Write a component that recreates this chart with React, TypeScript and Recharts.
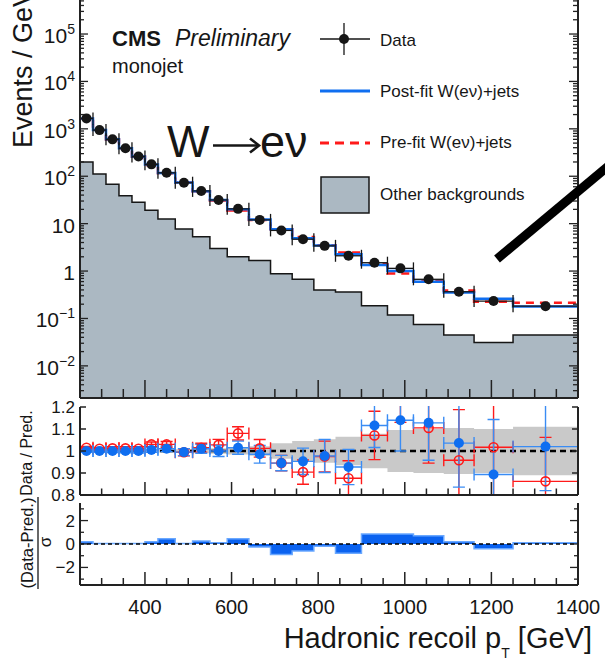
import React from 'react'
import {
  ComposedChart,
  Area,
  Line,
  Scatter,
  ErrorBar,
  XAxis,
  YAxis,
  ReferenceLine,
} from 'recharts'

// binning of the hadronic recoil (GeV)
const binEdges = [250, 280, 310, 340, 370, 400, 430, 470, 510, 550, 590, 640, 690, 740, 790, 840, 900, 960, 1020, 1090, 1160, 1250, 1400]

// events / GeV
const dataYield = [1660, 940, 600, 390, 260, 178, 118, 73, 49, 31.6, 20.5, 12, 7.2, 4.7, 3.4, 2.1, 1.5, 1.14, 0.67, 0.366, 0.233, 0.182]
const postFit = [1660, 940, 600, 390, 260, 177, 117, 73.4, 48.5, 31.6, 20.2, 12.2, 7.6, 4.93, 3.48, 2.27, 1.34, 1.0, 0.594, 0.353, 0.261, 0.178]
const preFit = [1635, 931, 593, 385, 257, 173, 115, 73.4, 48.3, 30.7, 19.0, 11.9, 7.6, 5.2, 3.49, 2.45, 1.4, 0.89, 0.606, 0.39, 0.225, 0.214]
const otherBkg = [200, 112, 67.5, 38.8, 28.2, 19.1, 12.5, 7.7, 5.3, 3.0, 2.0, 1.68, 0.88, 0.67, 0.4, 0.36, 0.185, 0.118, 0.075, 0.045, 0.031, 0.045]

// data / prediction
const ratioPost = [1.0, 1.0, 1.0, 1.0, 1.0, 1.005, 1.01, 0.995, 1.01, 1.0, 1.015, 0.985, 0.945, 0.953, 0.977, 0.927, 1.116, 1.14, 1.128, 1.036, 0.893, 1.02]
const ratioPostErr = [0.006, 0.006, 0.007, 0.008, 0.009, 0.011, 0.013, 0.016, 0.02, 0.025, 0.03, 0.04, 0.035, 0.06, 0.075, 0.08, 0.1, 0.14, 0.17, 0.2, 0.25, 0.2]
const ratioPre = [1.015, 1.01, 1.012, 1.012, 1.01, 1.03, 1.03, 0.994, 1.015, 1.028, 1.08, 1.012, 0.945, 0.904, 0.975, 0.876, 1.071, 1.28, 1.105, 0.958, 1.017, 0.862]
const ratioPreErr = [0.006, 0.006, 0.007, 0.008, 0.009, 0.011, 0.013, 0.016, 0.02, 0.025, 0.03, 0.04, 0.035, 0.055, 0.07, 0.08, 0.11, 0.15, 0.16, 0.23, 0.25, 0.2]
const bandHalf = [0.004, 0.004, 0.004, 0.005, 0.005, 0.006, 0.007, 0.008, 0.01, 0.012, 0.016, 0.022, 0.035, 0.045, 0.053, 0.065, 0.078, 0.095, 0.1, 0.105, 0.1, 0.11]

// (data - pred) / sigma
const pull = [0.2, 0.05, 0.05, 0.05, 0.05, 0.2, 0.45, 0.05, 0.25, 0.1, 0.45, -0.25, -0.9, -0.6, -0.2, -0.8, 0.85, 0.85, 0.7, 0.2, -0.4, 0.1]

// ticks
const xTicks = [250, 300, 350, 400, 450, 500, 550, 600, 650, 700, 750, 800, 850, 900, 950, 1000, 1050, 1100, 1150, 1200, 1250, 1300, 1350, 1400]
const logDecades = [0.001, 0.01, 0.1, 1, 10, 100, 1000, 1e4, 1e5]
const ratioTicks = [0.8, 0.9, 1.0, 1.1, 1.2]
const ratioLabels = ['0.8', '0.9', '1', '1.1', '1.2']
const pullTicks = [-3, -2, -1, 0, 1, 2, 3]

const Y_MIN = 0.0021
const Y_MAX = 7.7e5

const FONT = '"Liberation Sans", Arial, Helvetica, sans-serif'
const INK = '#161616'
const GREY = '#abb8c2'
const BAND = '#c9c9c9'
const BLUE = '#0f6ef0'
const BLUE_ERR = '#3a8cf4'
const RED = '#ff1a1a'
const frame = { stroke: '#222', strokeWidth: 2 }

const logTicks: number[] = []
logDecades.forEach((d) => {
  for (let m = 1; m < 10; m++) {
    const v = m * d
    if (v >= Y_MIN && v <= Y_MAX) logTicks.push(v)
  }
})

const lastEdge = binEdges[binEdges.length - 1]
const stepRows = (vals: number[]) => [
  ...vals.map((v, i) => ({ x: binEdges[i], y: v })),
  { x: lastEdge, y: vals[vals.length - 1] },
]
const pointRows = (vals: number[], errs?: number[]) =>
  vals.map((v, i) => ({
    x: (binEdges[i] + binEdges[i + 1]) / 2,
    y: v,
    ex: (binEdges[i + 1] - binEdges[i]) / 2,
    ey: errs ? errs[i] : 0,
  }))

const otherRows = stepRows(otherBkg)
const preRows = stepRows(preFit)
const postRows = stepRows(postFit)
const dataRows = pointRows(dataYield)
const bandRows = [
  ...bandHalf.map((u, i) => ({ x: binEdges[i], band: [1 - u, 1 + u] })),
  { x: lastEdge, band: [1 - bandHalf[bandHalf.length - 1], 1 + bandHalf[bandHalf.length - 1]] },
]
const postRatioRows = pointRows(ratioPost, ratioPostErr)
const preRatioRows = pointRows(ratioPre, ratioPreErr)
const pullRows = stepRows(pull)

const isDecade = (v: number) => {
  const l = Math.log10(v)
  return Math.abs(l - Math.round(l)) < 1e-6
}

// x ticks, drawn inward from the frame
const xTick = (majorLen: number, minorLen: number, dir: number, withLabel: boolean) => (p: any) => {
  const v = p.payload.value
  const major = v % 200 === 0
  return (
    <g>
      <line x1={p.x} x2={p.x} y1={p.y} y2={p.y + dir * (major ? majorLen : minorLen)} stroke="#222" strokeWidth={1.5} />
      {withLabel && major && (
        <text x={p.x} y={p.y + 29} textAnchor="middle" fontSize={20} fontFamily={FONT} fill={INK}>
          {v}
        </text>
      )}
    </g>
  )
}

const logTick = (dir: number, majorLen: number, minorLen: number, withLabel: boolean) => (p: any) => {
  const v = p.payload.value
  const major = isDecade(v)
  const e = Math.round(Math.log10(v))
  let label: React.ReactNode = null
  if (withLabel && major) {
    if (e === 0) label = '1'
    else if (e === 1) label = '10'
    else
      label = (
        <>
          10
          <tspan dy={-9} fontSize={14}>
            {e < 0 ? '\u2212' + -e : e}
          </tspan>
        </>
      )
  }
  return (
    <g>
      <line x1={p.x} x2={p.x + dir * (major ? majorLen : minorLen)} y1={p.y} y2={p.y} stroke="#222" strokeWidth={1.3} />
      {label && (
        <text x={p.x - 5} y={p.y + 9} textAnchor="end" fontSize={21} fontFamily={FONT} fill={INK}>
          {label}
        </text>
      )}
    </g>
  )
}

const linTick = (dir: number, isMajor: (v: number) => boolean, majorLen: number, minorLen: number, labelOf?: (v: number) => string | null) => (p: any) => {
  const v = p.payload.value
  const major = isMajor(v)
  const txt = labelOf ? labelOf(v) : null
  return (
    <g>
      <line x1={p.x} x2={p.x + dir * (major ? majorLen : minorLen)} y1={p.y} y2={p.y} stroke="#222" strokeWidth={1.3} />
      {txt && (
        <text x={p.x - 5} y={p.y + 6} textAnchor="end" fontSize={17} fontFamily={FONT} fill={INK}>
          {txt}
        </text>
      )}
    </g>
  )
}

const dot = (r: number, fill: string) => (p: any) => <circle cx={p.cx} cy={p.cy} r={r} fill={fill} />
const openDot = (p: any) => <circle cx={p.cx} cy={p.cy} r={4.5} fill="none" stroke={RED} strokeWidth={1.6} />

function TopPanel() {
  return (
    <div style={{ position: 'absolute', left: 0, top: -20, width: 605, height: 420 }}>
      <ComposedChart width={605} height={420} margin={{ top: 12, right: 0, bottom: 0, left: 0 }}>
        <XAxis type="number" dataKey="x" domain={[250, 1400]} allowDataOverflow ticks={xTicks} interval={0} height={2} tickSize={0} tickMargin={0} tick={xTick(18, 9, -1, false)} axisLine={frame} />
        <XAxis xAxisId="top" orientation="top" type="number" dataKey="x" domain={[250, 1400]} allowDataOverflow ticks={xTicks} interval={0} height={0} tickSize={0} tickMargin={0} tick={xTick(18, 9, 1, false)} axisLine={frame} />
        <YAxis type="number" dataKey="y" scale="log" domain={[Y_MIN, Y_MAX]} allowDataOverflow ticks={logTicks} interval={0} width={80} tickSize={0} tickMargin={0} tick={logTick(1, 8, 4, true)} axisLine={frame} />
        <YAxis yAxisId="r" orientation="right" type="number" scale="log" domain={[Y_MIN, Y_MAX]} allowDataOverflow ticks={logTicks} interval={0} width={27} tickSize={0} tickMargin={0} tick={logTick(-1, 9, 5, false)} axisLine={frame} />
        <Area data={otherRows} type="stepAfter" dataKey="y" baseValue={Y_MIN} fill={GREY} fillOpacity={1} stroke={INK} strokeWidth={1.5} dot={false} activeDot={false} isAnimationActive={false} />
        <Line data={preRows} type="stepAfter" dataKey="y" stroke={RED} strokeWidth={2.5} strokeDasharray="8 6" dot={false} activeDot={false} isAnimationActive={false} />
        <Line data={postRows} type="stepAfter" dataKey="y" stroke={BLUE} strokeWidth={2.5} dot={false} activeDot={false} isAnimationActive={false} />
        <Scatter data={dataRows} dataKey="y" fill={INK} shape={dot(5, INK)} isAnimationActive={false}>
          <ErrorBar dataKey="ex" direction="x" width={6} stroke={INK} strokeWidth={1.3} />
        </Scatter>
      </ComposedChart>
    </div>
  )
}

// keep error bars inside the frame, but leave the tick labels on the left free
const ratioClip = 'polygon(0 0, 79px 0, 79px 9px, 100% 9px, 100% 99px, 79px 99px, 79px 100%, 0 100%)'

function RatioPanel() {
  return (
    <div style={{ position: 'absolute', left: 0, top: 397, width: 605, height: 110, clipPath: ratioClip }}>
      <ComposedChart width={605} height={110} margin={{ top: 10, right: 0, bottom: 0, left: 0 }}>
        <XAxis type="number" dataKey="x" domain={[250, 1400]} allowDataOverflow ticks={xTicks} interval={0} height={12} tickSize={0} tickMargin={0} tick={xTick(13, 6.5, -1, false)} axisLine={frame} />
        <XAxis xAxisId="top" orientation="top" type="number" dataKey="x" domain={[250, 1400]} allowDataOverflow ticks={xTicks} interval={0} height={0} tickSize={0} tickMargin={0} tick={xTick(13, 6.5, 1, false)} axisLine={frame} />
        <YAxis type="number" dataKey="y" domain={[0.8, 1.2]} allowDataOverflow ticks={ratioTicks} interval={0} width={80} tickSize={0} tickMargin={0} tick={linTick(1, () => true, 6, 3, (v) => ratioLabels[ratioTicks.findIndex((t) => Math.abs(t - v) < 1e-6)])} axisLine={frame} />
        <YAxis yAxisId="r" orientation="right" type="number" domain={[0.8, 1.2]} allowDataOverflow ticks={ratioTicks} interval={0} width={27} tickSize={0} tickMargin={0} tick={linTick(-1, () => true, 6, 3)} axisLine={frame} />
        <Area data={bandRows} type="stepAfter" dataKey="band" fill={BAND} fillOpacity={1} stroke="none" dot={false} activeDot={false} isAnimationActive={false} />
        <ReferenceLine y={1} stroke="#000" strokeWidth={2.5} strokeDasharray="6 4" />
        <Scatter data={preRatioRows} dataKey="y" fill={RED} shape={openDot} isAnimationActive={false}>
          <ErrorBar dataKey="ex" direction="x" width={6} stroke={RED} strokeWidth={1.4} />
          <ErrorBar dataKey="ey" direction="y" width={6} stroke={RED} strokeWidth={1.4} />
        </Scatter>
        <Scatter data={postRatioRows} dataKey="y" fill={BLUE} shape={dot(5, BLUE)} isAnimationActive={false}>
          <ErrorBar dataKey="ex" direction="x" width={6} stroke={BLUE_ERR} strokeWidth={1.4} />
          <ErrorBar dataKey="ey" direction="y" width={6} stroke={BLUE_ERR} strokeWidth={1.4} />
        </Scatter>
      </ComposedChart>
    </div>
  )
}

function PullPanel() {
  return (
    <div style={{ position: 'absolute', left: 0, top: 495, width: 605, height: 165 }}>
      <ComposedChart width={605} height={165} margin={{ top: 8, right: 0, bottom: 0, left: 0 }}>
        <XAxis type="number" dataKey="x" domain={[250, 1400]} allowDataOverflow ticks={xTicks} interval={0} height={75} tickSize={0} tickMargin={0} tick={xTick(13, 7, -1, true)} axisLine={frame} />
        <XAxis xAxisId="top" orientation="top" type="number" dataKey="x" domain={[250, 1400]} allowDataOverflow ticks={xTicks} interval={0} height={0} tickSize={0} tickMargin={0} tick={xTick(13, 7, 1, false)} axisLine={frame} />
        <YAxis type="number" dataKey="y" domain={[-3.5, 3.5]} allowDataOverflow ticks={pullTicks} interval={0} width={80} tickSize={0} tickMargin={0} tick={linTick(1, (v) => v % 2 === 0, 8, 4, (v) => (v % 2 === 0 && Math.abs(v) < 3 ? (v < 0 ? '\u2212' + -v : String(v)) : null))} axisLine={frame} />
        <YAxis yAxisId="r" orientation="right" type="number" domain={[-3.5, 3.5]} allowDataOverflow ticks={pullTicks} interval={0} width={27} tickSize={0} tickMargin={0} tick={linTick(-1, (v) => v % 2 === 0, 8, 4)} axisLine={frame} />
        <Area data={pullRows} type="stepAfter" dataKey="y" baseValue={0} fill="#0a62f0" fillOpacity={1} stroke="#6aa8ff" strokeWidth={1.5} dot={false} activeDot={false} isAnimationActive={false} />
        <ReferenceLine y={0} stroke="#000" strokeWidth={1.3} strokeDasharray="4 3" />
      </ComposedChart>
    </div>
  )
}

function Overlay() {
  return (
    <svg width={605} height={660} style={{ position: 'absolute', left: 0, top: 0, pointerEvents: 'none' }} fontFamily={FONT} fill={INK}>
      <text transform="translate(32,148) rotate(-90)" fontSize={27}>
        Events / GeV
      </text>
      <text transform="translate(32,453) rotate(-90)" fontSize={16} textAnchor="middle">
        Data / Pred.
      </text>
      <text transform="translate(33,543) rotate(-90)" fontSize={16.5} textAnchor="middle">
        (Data-Pred.)
      </text>
      <line x1={38} x2={38} y1={497} y2={589} stroke={INK} strokeWidth={1.3} />
      <text transform="translate(51,542) rotate(-90)" fontSize={17} textAnchor="middle">
        σ
      </text>

      <text x={112} y={46} fontSize={22} fontWeight="bold">
        CMS
      </text>
      <text x={175} y={46} fontSize={23} fontStyle="italic">
        Preliminary
      </text>
      <text x={112} y={73} fontSize={20}>
        monojet
      </text>

      {/* W -> e nu */}
      <text x={167} y={157} fontSize={45}>
        W
      </text>
      <line x1={213} x2={258} y1={145.5} y2={145.5} stroke={INK} strokeWidth={2.6} />
      <polyline points="250,138.5 259,145.5 250,152.5" fill="none" stroke={INK} strokeWidth={2.6} />
      <text x={260} y={157} fontSize={45}>
        eν
      </text>

      {/* legend */}
      <line x1={320} x2={370} y1={39} y2={39} stroke={INK} strokeWidth={1.3} />
      <line x1={344} x2={344} y1={23} y2={55} stroke={INK} strokeWidth={1.3} />
      <circle cx={344} cy={39} r={5} fill={INK} />
      <text x={380} y={46} fontSize={17}>
        Data
      </text>
      <line x1={320} x2={370} y1={91} y2={91} stroke={BLUE} strokeWidth={3} />
      <text x={380} y={97} fontSize={17}>
        Post-fit W(eν)+jets
      </text>
      <line x1={320} x2={370} y1={143} y2={143} stroke={RED} strokeWidth={3} strokeDasharray="9 6" />
      <text x={380} y={148} fontSize={17}>
        Pre-fit W(eν)+jets
      </text>
      <rect x={321} y={177} width={48} height={36} fill={GREY} stroke={INK} strokeWidth={1.5} />
      <text x={380} y={200} fontSize={17}>
        Other backgrounds
      </text>

      <line x1={497} y1={259} x2={612} y2={163} stroke="#000" strokeWidth={9} />

      <text x={592} y={648} fontSize={29} textAnchor="end">
        Hadronic recoil p
        <tspan fontSize={14} dy={10}>
          T
        </tspan>
        <tspan dy={-10}> [GeV]</tspan>
      </text>
    </svg>
  )
}

export default function App() {
  return (
    <div style={{ position: 'absolute', left: 0, top: 0, width: 605, height: 660, overflow: 'hidden', background: '#fff', fontFamily: FONT }}>
      <TopPanel />
      <RatioPanel />
      <PullPanel />
      <Overlay />
    </div>
  )
}
